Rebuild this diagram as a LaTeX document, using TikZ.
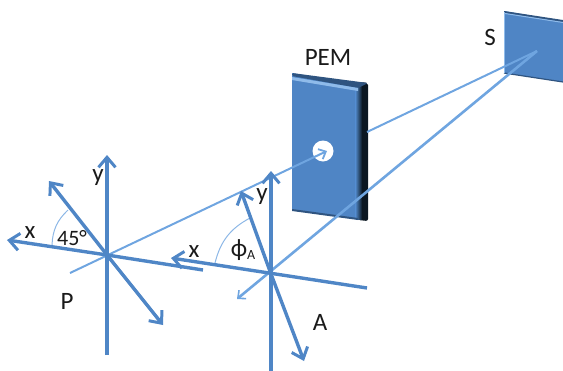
\documentclass[tikz,border=0pt]{standalone}
\usepackage{fontspec}
\setmainfont{Carlito}
\usetikzlibrary{arrows.meta}
\definecolor{axisblue}{HTML}{4F86C6}
\definecolor{beamblue}{HTML}{6FA5E0}
\definecolor{faceblue}{HTML}{4F85C5}
\definecolor{edgeblue}{HTML}{2F5480}
\definecolor{lightblue}{HTML}{8FBBEA}
\definecolor{darkside}{HTML}{0B1722}
\definecolor{txt}{HTML}{1A1A1A}
\tikzset{
  axisline/.style={draw=axisblue,line width=3.4pt},
  axisarrow/.style={axisline,-{Straight Barb[length=10pt,width=17pt,line width=3pt]}},
  beamline/.style={draw=beamblue,line width=2pt},
  beamarrow/.style={beamline,-{Straight Barb[length=6pt,width=11pt,line width=1.8pt]}},
  beamthick/.style={draw=beamblue,line width=2.6pt,-{Straight Barb[length=6pt,width=11pt,line width=1.6pt]}},
  anglearc/.style={draw=beamblue!80,line width=1pt},
  lab/.style={text=txt,font=\fontsize{25}{27}\selectfont,inner sep=0pt},
  smalllab/.style={text=txt,font=\fontsize{22}{24}\selectfont,inner sep=0pt}
}
\begin{document}
\begin{tikzpicture}[x=1pt,y=-1pt]
\useasboundingbox (0,0) rectangle (563,370);
\clip (0,0) rectangle (563,370);
% named points
\coordinate (Pc) at (107,255);
\coordinate (Ac) at (271,274);
\coordinate (Pytop) at (107,155);
\coordinate (Pybot) at (107,355);
\coordinate (Pxl) at (7,240);
\coordinate (Pxr) at (203,270);
\coordinate (Pd1) at (49,181);
\coordinate (Pd2) at (163,325);
\coordinate (Aytop) at (271,171);
\coordinate (Aybot) at (271,371);
\coordinate (Axl) at (171,258);
\coordinate (Axr) at (367,288);
\coordinate (Ad1) at (241,191);
\coordinate (Ad2) at (304,361);
\coordinate (B0) at (70,273);
\coordinate (B1) at (327,151);
\coordinate (B2) at (367,132);
\coordinate (Stip) at (537,51);
\coordinate (Atail) at (237,299);
% S plate
\fill[faceblue] (504,11) -- (563,21) -- (563,82) -- (504,73) -- cycle;
\fill[edgeblue] (504,11) -- (563,20) -- (563,22) -- (504,13) -- cycle;
\fill[lightblue] (505,13) -- (563,22) -- (563,23) -- (505,14) -- cycle;
\draw[edgeblue,line width=1.2pt] (504,73) -- (563,82);
\draw[lightblue,line width=0.8pt] (504,12) -- (504,73);
% PEM plate
\fill[darkside,rounded corners=2pt] (361,82) -- (368,83) -- (368,221) -- (358,220) -- (358,86) -- cycle;
\fill[faceblue] (292,73) -- (356,84) -- (356,219) -- (292,210) -- cycle;
\shade[left color=faceblue,right color=darkside] (355.5,86) rectangle (362,219.5);
\fill[edgeblue,rounded corners=1.5pt] (292,76) -- (292,73) -- (368,83) -- (358,88) -- cycle;
\fill[lightblue] (292,77) -- (358,88) -- (358,91) -- (292,80) -- cycle;
\fill[edgeblue] (292,209) -- (358,218) -- (358,220) -- (292,211) -- cycle;
\fill[white] (323,151) circle (10.5);
% beams
\draw[beamthick] (Stip) -- (Atail);
\draw[beamarrow] (B0) -- (B1);
\draw[beamline] (B2) -- (Stip);
% angle arcs
\draw[anglearc] (52,245) to[bend left=22] (68,210);
\draw[anglearc] (215,263) to[bend left=24] (250,218);
% P axes
\draw[axisline] (Pxr) -- (Pc);
\draw[axisarrow] (Pc) -- (Pxl);
\draw[axisarrow] (Pybot) -- (Pytop);
\draw[axisarrow] (Pc) -- (Pd1);
\draw[axisarrow] (Pc) -- (Pd2);
% A axes
\draw[axisarrow] (Axr) -- (Axl);
\draw[axisarrow] (Aybot) -- (Aytop);
\draw[axisarrow] (Ac) -- (Ad1);
\draw[axisarrow] (Ac) -- (Ad2);
% labels
\node[lab] (lpem) at (328,57) {PEM};
\node[lab] (ls) at (490,37) {S};
\node[lab] (lp) at (67,301) {P};
\node[lab] (la) at (320,322) {A};
\node[lab] (lx1) at (30,233) {x};
\node[lab] (ly1) at (98,178) {y};
\node[smalllab] (l45) at (72,238) {45°};
\node[lab] (lx2) at (194,252) {x};
\node[lab] (ly2) at (262,197) {y};
\node[lab] (lphi) at (243,250) {ϕ\raisebox{-3pt}{\fontsize{14}{15}\selectfont A}};
\end{tikzpicture}
\end{document}
